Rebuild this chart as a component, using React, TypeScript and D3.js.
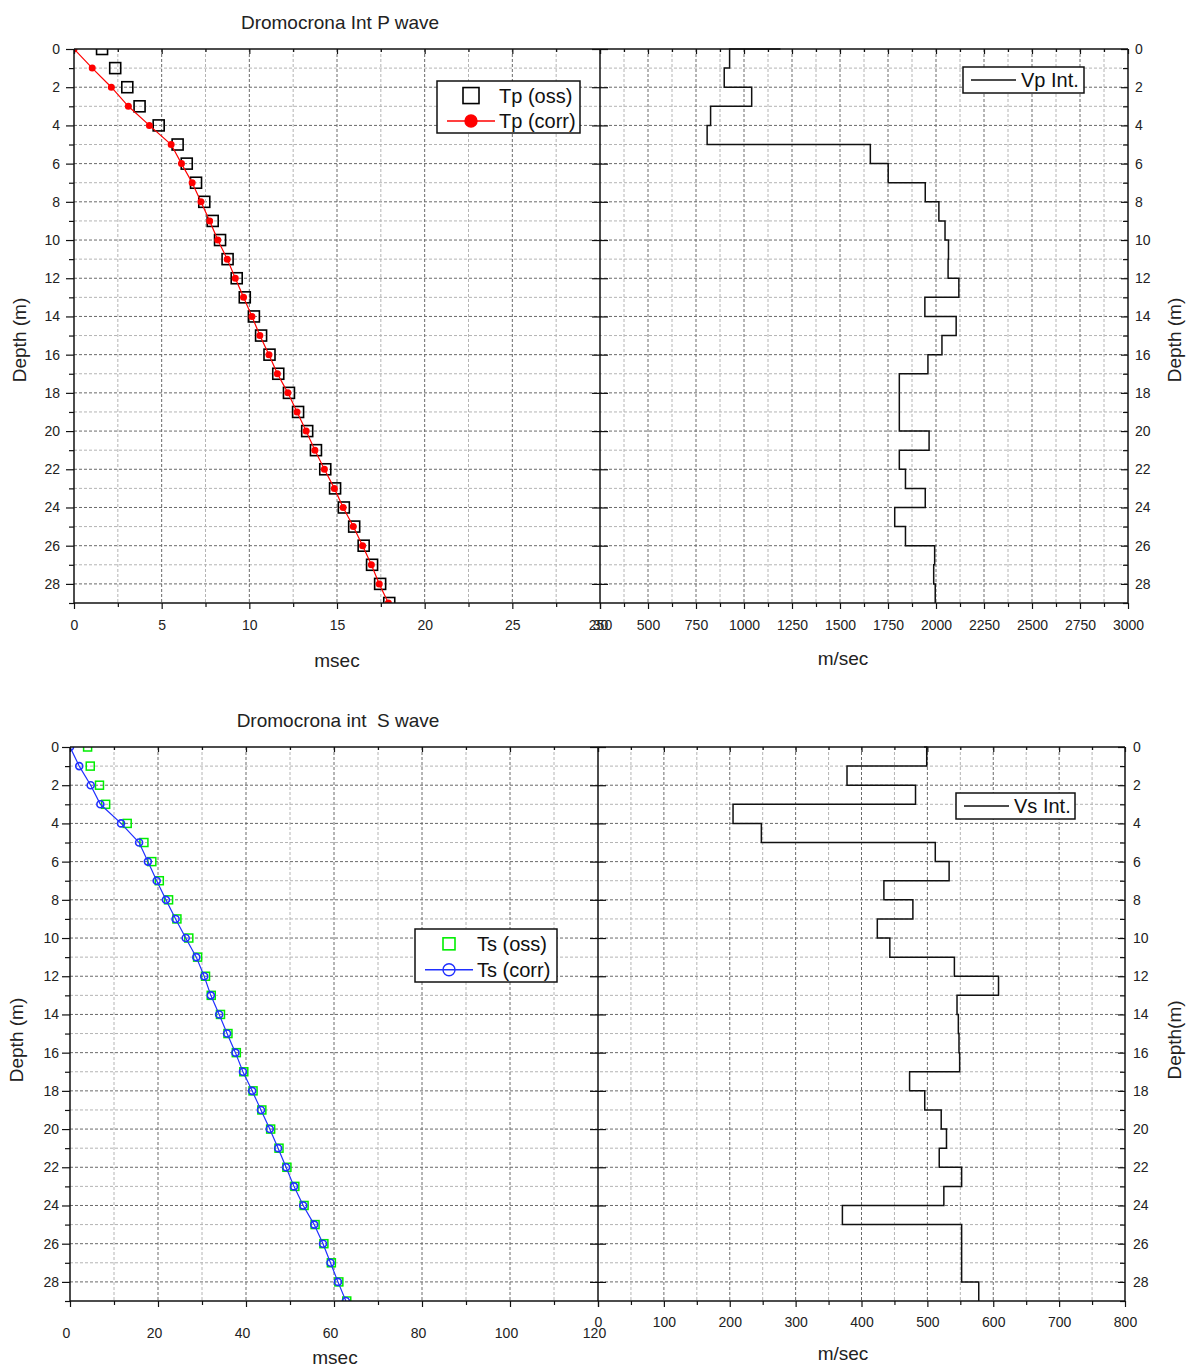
import React, { useRef, useEffect } from 'react';
import * as d3 from 'd3';

// depth of each reading (m)
const depthM = [0, 1, 2, 3, 4, 5, 6, 7, 8, 9, 10, 11, 12, 13, 14, 15, 16, 17, 18, 19, 20, 21, 22, 23, 24, 25, 26, 27, 28, 29];

// P wave travel times (msec) and interval velocity (m/sec)
const tpOss = [1.6, 2.35, 3.04, 3.74, 4.83, 5.91, 6.43, 6.96, 7.43, 7.91, 8.33, 8.76, 9.28, 9.74, 10.26, 10.67, 11.15, 11.65, 12.26, 12.78, 13.3, 13.8, 14.33, 14.89, 15.39, 15.98, 16.52, 17.0, 17.46, 17.98];
const tpCorr = [0, 1.04, 2.13, 3.1, 4.3, 5.54, 6.13, 6.74, 7.24, 7.74, 8.2, 8.74, 9.2, 9.67, 10.15, 10.6, 11.12, 11.6, 12.2, 12.72, 13.24, 13.74, 14.28, 14.85, 15.35, 15.93, 16.46, 16.96, 17.41, 17.93];
const vpInt = [1190, 925, 897, 1040, 826, 808, 1658, 1751, 1944, 2015, 2047, 2065, 2063, 2119, 1942, 2105, 2031, 1958, 1809, 1809, 1809, 1964, 1809, 1841, 1944, 1785, 1841, 1993, 1988, 1996];

// S wave travel times (msec) and interval velocity (m/sec)
const tsOss = [4.0, 4.6, 6.7, 8.1, 13.0, 16.8, 18.6, 20.3, 22.4, 24.3, 27.0, 29.0, 30.8, 32.1, 34.2, 35.9, 37.8, 39.5, 41.6, 43.6, 45.6, 47.5, 49.3, 51.1, 53.2, 55.7, 57.7, 59.4, 61.1, 62.9];
const tsCorr = [0, 2.1, 4.7, 6.9, 11.6, 15.7, 17.7, 19.7, 21.8, 24.0, 26.3, 28.7, 30.5, 32.0, 33.9, 35.7, 37.6, 39.3, 41.4, 43.4, 45.4, 47.3, 49.1, 50.9, 53.0, 55.5, 57.5, 59.2, 60.9, 62.7];
const vsInt = [495, 499, 378, 482, 205, 248, 512, 533, 434, 478, 424, 443, 541, 608, 545, 547, 548, 549, 473, 496, 521, 529, 518, 552, 525, 371, 552, 552, 552, 578];

const FONT = '"Liberation Sans", Arial, Helvetica, sans-serif';

const panels = [
  {
    id: 'p',
    title: 'Dromocrona Int P wave', titleX: 340, titleY: 29,
    top: 49, bottom: 603, left: 74, mid: 600, right: 1128,
    tDomain: [0, 30], tStep: 2.5, tMajor: 5, tPad: 11, tShift: 0,
    vDomain: [250, 3000], vStep: 125, vMajor: 250, vPad: 11,
    yPadL: 6, yPadR: 7,
    tTitle: [337, 667], vTitle: [843, 665],
    depthL: 'Depth (m)', depthR: 'Depth (m)', depthX: [20, 1175], depthY: 340,
    oss: tpOss, corr: tpCorr, vint: vpInt,
    ossColor: '#000', ossSize: 11, ossWidth: 1.6,
    corrColor: '#ff0000', corrR: 3.5, corrFilled: true,
    leg1: { x: 437, y: 81, w: 143, h: 52, sq: 16, a: 'Tp (oss)', b: 'Tp (corr)' },
    leg2: { x: 963, y: 67, w: 121, h: 26, label: 'Vp Int.' },
  },
  {
    id: 's',
    title: 'Dromocrona int  S wave', titleX: 338, titleY: 727,
    top: 747, bottom: 1301, left: 70, mid: 598, right: 1125,
    tDomain: [0, 120], tStep: 10, tMajor: 20, tPad: 21, tShift: -4,
    vDomain: [0, 800], vStep: 50, vMajor: 100, vPad: 10,
    yPadL: 3, yPadR: 8,
    tTitle: [335, 1364], vTitle: [843, 1360],
    depthL: 'Depth (m)', depthR: 'Depth(m)', depthX: [17, 1175], depthY: 1040,
    oss: tsOss, corr: tsCorr, vint: vsInt,
    ossColor: '#00ee00', ossSize: 8, ossWidth: 1.5,
    corrColor: '#2030ff', corrR: 3.5, corrFilled: false,
    leg1: { x: 415, y: 929, w: 142, h: 53, sq: 12, a: 'Ts (oss)', b: 'Ts (corr)' },
    leg2: { x: 956, y: 793, w: 119, h: 26, label: 'Vs Int.' },
  },
];

type Panel = typeof panels[number];

function ticksOf(domain: number[], step: number) {
  const n = Math.round((domain[1] - domain[0]) / step);
  return d3.range(0, n + 1).map((i) => domain[0] + i * step);
}

const onMultiple = (v: number, m: number) => Math.abs(v / m - Math.round(v / m)) < 1e-6;

function styleAxis(sel: d3.Selection<SVGGElement, unknown, null, undefined>) {
  sel.select('.domain').remove();
  sel.selectAll('line').attr('stroke', '#111').attr('stroke-width', 1.2);
  sel.selectAll('text').attr('font-family', FONT).attr('font-size', 14).attr('fill', '#222');
}

function drawPanel(svg: d3.Selection<SVGSVGElement, unknown, null, undefined>, p: Panel) {
  const g = svg.append('g');
  const y = d3.scaleLinear().domain([0, 29]).range([p.top, p.bottom]);
  const xt = d3.scaleLinear().domain(p.tDomain).range([p.left, p.mid]);
  const xv = d3.scaleLinear().domain(p.vDomain).range([p.mid, p.right]);

  const even = depthM.filter((d) => d % 2 === 0);
  const odd = depthM.filter((d) => d % 2 === 1);
  const tAll = ticksOf(p.tDomain, p.tStep);
  const vAll = ticksOf(p.vDomain, p.vStep);
  const tMaj = tAll.filter((v) => onMultiple(v, p.tMajor));
  const tMin = tAll.filter((v) => !tMaj.includes(v));
  const vMaj = vAll.filter((v) => onMultiple(v, p.vMajor));
  const vMin = vAll.filter((v) => !vMaj.includes(v));

  // grid
  const grid = g.append('g').attr('fill', 'none');
  const gridLine = (x1: number, y1: number, x2: number, y2: number, major: boolean) =>
    grid.append('line').attr('x1', x1).attr('y1', y1).attr('x2', x2).attr('y2', y2)
      .attr('stroke', major ? '#6a6a6a' : '#b4b4b4').attr('stroke-width', 1)
      .attr('stroke-dasharray', '3,2');
  depthM.filter((d) => d > 0 && d < 29).forEach((d) => gridLine(p.left, y(d), p.right, y(d), d % 2 === 0));
  tAll.filter((v) => v > p.tDomain[0] && v < p.tDomain[1]).forEach((v) => gridLine(xt(v), p.top, xt(v), p.bottom, tMaj.includes(v)));
  vAll.filter((v) => v > p.vDomain[0] && v < p.vDomain[1]).forEach((v) => gridLine(xv(v), p.top, xv(v), p.bottom, vMaj.includes(v)));

  // clip to plot area
  const clipL = `clip-${p.id}-l`;
  const clipR = `clip-${p.id}-r`;
  const defs = g.append('defs');
  defs.append('clipPath').attr('id', clipL).append('rect')
    .attr('x', p.left).attr('y', p.top).attr('width', p.mid - p.left).attr('height', p.bottom - p.top);
  defs.append('clipPath').attr('id', clipR).append('rect')
    .attr('x', p.mid).attr('y', p.top - 1).attr('width', p.right - p.mid).attr('height', p.bottom - p.top + 1);

  // travel time curves
  const left = g.append('g').attr('clip-path', `url(#${clipL})`);
  left.selectAll('rect.oss').data(p.oss).join('rect')
    .attr('class', 'oss')
    .attr('x', (v) => xt(v) - p.ossSize / 2)
    .attr('y', (_, i) => y(depthM[i]) - p.ossSize / 2)
    .attr('width', p.ossSize).attr('height', p.ossSize)
    .attr('fill', 'none').attr('stroke', p.ossColor).attr('stroke-width', p.ossWidth);

  const corrLine = d3.line<number>().x((v) => xt(v)).y((_, i) => y(depthM[i]));
  left.append('path').attr('d', corrLine(p.corr))
    .attr('fill', 'none').attr('stroke', p.corrColor).attr('stroke-width', 1.2);
  left.selectAll('circle.corr').data(p.corr).join('circle')
    .attr('class', 'corr')
    .attr('cx', (v) => xt(v)).attr('cy', (_, i) => y(depthM[i]))
    .attr('r', p.corrR)
    .attr('fill', p.corrFilled ? p.corrColor : 'none')
    .attr('stroke', p.corrColor).attr('stroke-width', p.corrFilled ? 0 : 1.6);

  // interval velocity step line
  const right = g.append('g').attr('clip-path', `url(#${clipR})`);
  const step = d3.line<number>().x((v) => xv(v)).y((_, i) => y(depthM[i])).curve(d3.curveStepAfter);
  right.append('path').attr('d', step(p.vint))
    .attr('fill', 'none').attr('stroke', '#111').attr('stroke-width', 1.5);

  // axes: left depth
  g.append('g').attr('transform', `translate(${p.left},0)`)
    .call(d3.axisLeft(y).tickValues(even).tickSize(8).tickPadding(p.yPadL).tickFormat(d3.format('d')))
    .call(styleAxis);
  g.append('g').attr('transform', `translate(${p.left},0)`)
    .call(d3.axisLeft(y).tickValues(odd).tickSize(5).tickFormat(() => ''))
    .call(styleAxis);
  // middle depth ticks
  g.append('g').attr('transform', `translate(${p.mid},0)`)
    .call(d3.axisLeft(y).tickValues(even).tickSize(8).tickFormat(() => ''))
    .call(styleAxis);
  g.append('g').attr('transform', `translate(${p.mid},0)`)
    .call(d3.axisRight(y).tickValues(even).tickSize(8).tickFormat(() => ''))
    .call(styleAxis);
  // right depth (ticks inward)
  g.append('g').attr('transform', `translate(${p.right},0)`)
    .call(d3.axisRight(y).tickValues(even).tickSizeInner(-7).tickSizeOuter(0).tickPadding(p.yPadR).tickFormat(d3.format('d')))
    .call(styleAxis);
  g.append('g').attr('transform', `translate(${p.right},0)`)
    .call(d3.axisRight(y).tickValues(odd).tickSizeInner(-5).tickSizeOuter(0).tickFormat(() => ''))
    .call(styleAxis);

  // bottom axes
  const tAx = g.append('g').attr('transform', `translate(0,${p.bottom})`)
    .call(d3.axisBottom(xt).tickValues(tMaj).tickSize(6).tickPadding(p.tPad).tickFormat(d3.format('d')))
    .call(styleAxis);
  tAx.selectAll('text').attr('dx', p.tShift);
  g.append('g').attr('transform', `translate(0,${p.bottom})`)
    .call(d3.axisBottom(xt).tickValues(tMin).tickSize(4).tickFormat(() => ''))
    .call(styleAxis);
  g.append('g').attr('transform', `translate(0,${p.bottom})`)
    .call(d3.axisBottom(xv).tickValues(vMaj).tickSize(6).tickPadding(p.vPad).tickFormat(d3.format('d')))
    .call(styleAxis);
  g.append('g').attr('transform', `translate(0,${p.bottom})`)
    .call(d3.axisBottom(xv).tickValues(vMin).tickSize(4).tickFormat(() => ''))
    .call(styleAxis);

  // top axes, ticks pointing into the plot
  g.append('g').attr('transform', `translate(0,${p.top})`)
    .call(d3.axisBottom(xt).tickValues(tMaj).tickSize(5).tickFormat(() => ''))
    .call(styleAxis);
  g.append('g').attr('transform', `translate(0,${p.top})`)
    .call(d3.axisBottom(xt).tickValues(tMin).tickSize(3).tickFormat(() => ''))
    .call(styleAxis);
  g.append('g').attr('transform', `translate(0,${p.top})`)
    .call(d3.axisBottom(xv).tickValues(vMaj).tickSize(5).tickFormat(() => ''))
    .call(styleAxis);
  g.append('g').attr('transform', `translate(0,${p.top})`)
    .call(d3.axisBottom(xv).tickValues(vMin).tickSize(3).tickFormat(() => ''))
    .call(styleAxis);

  // frame
  const frame = g.append('g').attr('stroke', '#111').attr('stroke-width', 1.5);
  frame.append('line').attr('x1', p.left).attr('x2', p.right).attr('y1', p.top).attr('y2', p.top);
  frame.append('line').attr('x1', p.left).attr('x2', p.right).attr('y1', p.bottom).attr('y2', p.bottom);
  [p.left, p.mid, p.right].forEach((x) =>
    frame.append('line').attr('x1', x).attr('x2', x).attr('y1', p.top).attr('y2', p.bottom));

  // titles
  const txt = (x: number, yy: number, s: string, size: number) =>
    g.append('text').attr('x', x).attr('y', yy).attr('text-anchor', 'middle')
      .attr('font-family', FONT).attr('font-size', size).attr('fill', '#222')
      .style('white-space', 'pre').text(s);
  txt(p.titleX, p.titleY, p.title, 19);
  txt(p.tTitle[0], p.tTitle[1], 'msec', 19);
  txt(p.vTitle[0], p.vTitle[1], 'm/sec', 19);
  txt(0, 0, p.depthL, 19).attr('transform', `translate(${p.depthX[0] + 6},${p.depthY}) rotate(-90)`);
  txt(0, 0, p.depthR, 19).attr('transform', `translate(${p.depthX[1] + 6},${p.depthY}) rotate(-90)`);

  // legend for travel times
  const l1 = p.leg1;
  const lg = g.append('g');
  lg.append('rect').attr('x', l1.x).attr('y', l1.y).attr('width', l1.w).attr('height', l1.h)
    .attr('fill', '#fff').attr('stroke', '#111').attr('stroke-width', 1.5);
  const r1y = l1.y + l1.h * 0.28;
  const r2y = l1.y + l1.h * 0.77;
  lg.append('rect').attr('x', l1.x + 34 - l1.sq / 2).attr('y', r1y - l1.sq / 2)
    .attr('width', l1.sq).attr('height', l1.sq)
    .attr('fill', 'none').attr('stroke', p.ossColor).attr('stroke-width', 1.6);
  lg.append('line').attr('x1', l1.x + 10).attr('x2', l1.x + 58).attr('y1', r2y).attr('y2', r2y)
    .attr('stroke', p.corrColor).attr('stroke-width', 1.4);
  lg.append('circle').attr('cx', l1.x + 34).attr('cy', r2y).attr('r', 6)
    .attr('fill', p.corrFilled ? p.corrColor : 'none').attr('stroke', p.corrColor).attr('stroke-width', 1.4);
  [[l1.a, r1y], [l1.b, r2y]].forEach(([s, yy]) =>
    lg.append('text').attr('x', l1.x + 62).attr('y', (yy as number) + 7)
      .attr('font-family', FONT).attr('font-size', 20).attr('fill', '#111').text(s as string));

  // legend for velocity
  const l2 = p.leg2;
  const lg2 = g.append('g');
  lg2.append('rect').attr('x', l2.x).attr('y', l2.y).attr('width', l2.w).attr('height', l2.h)
    .attr('fill', '#fff').attr('stroke', '#111').attr('stroke-width', 1.5);
  lg2.append('line').attr('x1', l2.x + 8).attr('x2', l2.x + 53)
    .attr('y1', l2.y + l2.h / 2).attr('y2', l2.y + l2.h / 2)
    .attr('stroke', '#111').attr('stroke-width', 1.3);
  lg2.append('text').attr('x', l2.x + 58).attr('y', l2.y + l2.h / 2 + 7)
    .attr('font-family', FONT).attr('font-size', 20).attr('fill', '#111').text(l2.label);
}

export default function App() {
  const ref = useRef<SVGSVGElement>(null);

  useEffect(() => {
    if (!ref.current) return;
    const svg = d3.select(ref.current);
    svg.selectAll('*').remove();
    panels.forEach((p) => drawPanel(svg, p));
    return () => {
      svg.selectAll('*').remove();
    };
  }, []);

  return (
    <svg
      ref={ref}
      width={1187}
      height={1367}
      style={{ position: 'absolute', left: 0, top: 0, background: '#fff' }}
    />
  );
}
